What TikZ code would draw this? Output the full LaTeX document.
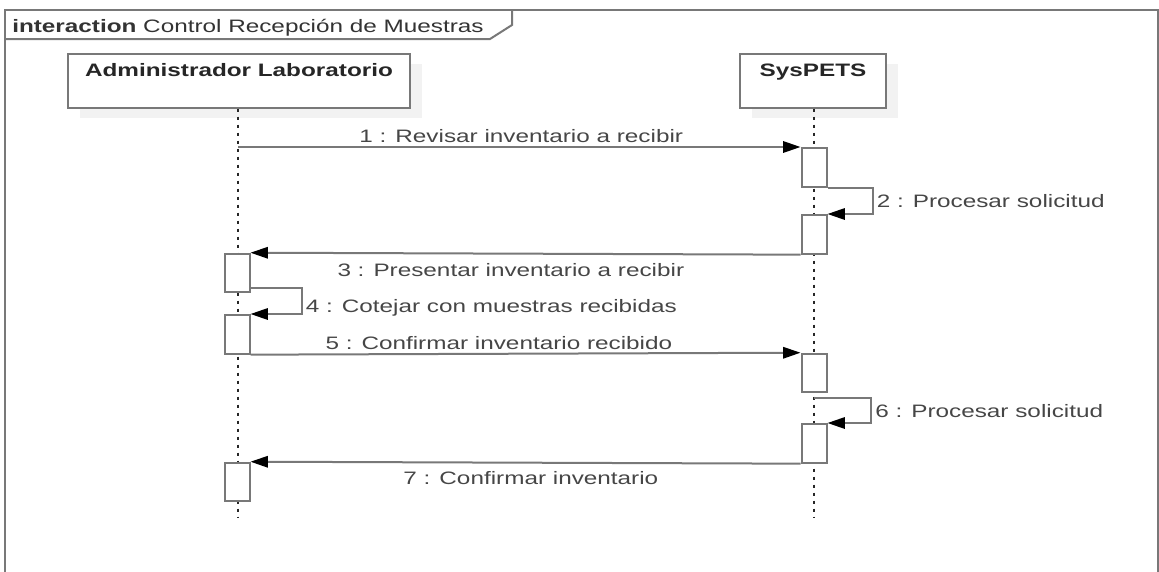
\documentclass[tikz,border=0pt]{standalone}
\usepackage{fontspec}
\setmainfont{Liberation Sans}[FakeStretch=1.35]
\usepackage{tikz}
\usetikzlibrary{arrows.meta,positioning,shadows}
\definecolor{frameGray}{RGB}{120,120,120}
\definecolor{labelGray}{RGB}{70,70,70}
\definecolor{shadowGray}{RGB}{242,242,242}

\begin{document}
\begin{tikzpicture}[x=0.75pt,y=-0.75pt,
    font=\fontsize{13.5}{16}\selectfont,
    frame/.style={draw=frameGray,line width=1.5pt},
    actor/.style={draw=frameGray,line width=1.5pt,fill=white,align=center,
      inner sep=0pt,minimum height=40.5pt,text=black!85,
      font=\fontsize{13.5}{16}\selectfont\bfseries,
      drop shadow={shadow xshift=9pt,shadow yshift=-7.5pt,fill=shadowGray,opacity=1}},
    activation/.style={draw=frameGray,line width=1.5pt,fill=white,
      minimum width=18.75pt,minimum height=29pt,inner sep=0pt,anchor=north},
    lifeline/.style={black!85,line width=1.3pt,dash pattern=on 2.25pt off 3.75pt},
    msg/.style={frameGray,line width=1.5pt,
      -{Triangle[length=13pt,width=8.5pt,color=black]}},
    lbl/.style={text=labelGray,inner sep=2.5pt}]
  \useasboundingbox (0,0) rectangle (1159,571);
  \clip (0,0) rectangle (1159,571);
  % Frame and tab
  \draw[frame] (5,580) -- (5,10) -- (1158,10) -- (1158,580);
  \draw[frame] (5,39) -- (490,39) -- (512,25) -- (512,10);
  \node[anchor=base west,inner sep=0pt,text=black!80] (title) at (12,32)
    {\textbf{interaction} Control Recepción de Muestras};
  % Actors
  \node[actor,minimum width=256.5pt] (admin) at (239,80.5)
    {Administrador Laboratorio\\\mbox{}};
  \node[actor,minimum width=109.5pt] (sys) at (813,80.5) {SysPETS\\\mbox{}};
  % Lifelines
  \coordinate (adminEnd) at (238,518);
  \coordinate (sysEnd) at (814,518);
  \draw[lifeline] (admin.south -| adminEnd) -- (adminEnd);
  \draw[lifeline] (sys.south -| sysEnd) -- (sysEnd);
  % Activations
  \node[activation] (s1) at (814,147) {};
  \node[activation] (s2) at (814,214) {};
  \node[activation] (a1) at (237,252.7) {};
  \node[activation] (a2) at (237,314) {};
  \node[activation] (s3) at (814,352.7) {};
  \node[activation] (s4) at (814,423) {};
  \node[activation] (a3) at (237,461.7) {};
  % Messages
  \draw[msg] (s1.north west -| adminEnd) --
    node[above,lbl,xshift=1.5pt] {1 : Revisar inventario a recibir} (s1.north west);
  \draw[msg] (s1.south east) -- ++(45,0) |-
    node[pos=0.25,right,lbl] {2 : Procesar solicitud} (s2.north east);
  \draw[msg] (s2.south west) --
    node[below=4pt,lbl,xshift=-11pt] {3 : Presentar inventario a recibir} (a1.north east);
  \draw[msg] (a1.south east) ++(0,-5) -- ++(51,0) |-
    node[pos=0.25,right,lbl,yshift=-5pt] {4 : Cotejar con muestras recibidas} (a2.north east);
  \draw[msg] (a2.south east) --
    node[above,lbl,xshift=-20pt] {5 : Confirmar inventario recibido} (s3.north west);
  \draw[msg] (s3.south) ++(0,5) -- ++(57,0) |-
    node[pos=0.25,right,lbl] {6 : Procesar solicitud} (s4.north east);
  \draw[msg] (s4.south west) --
    node[below=3pt,lbl,xshift=4pt] {7 : Confirmar inventario} (a3.north east);
\end{tikzpicture}
\end{document}
